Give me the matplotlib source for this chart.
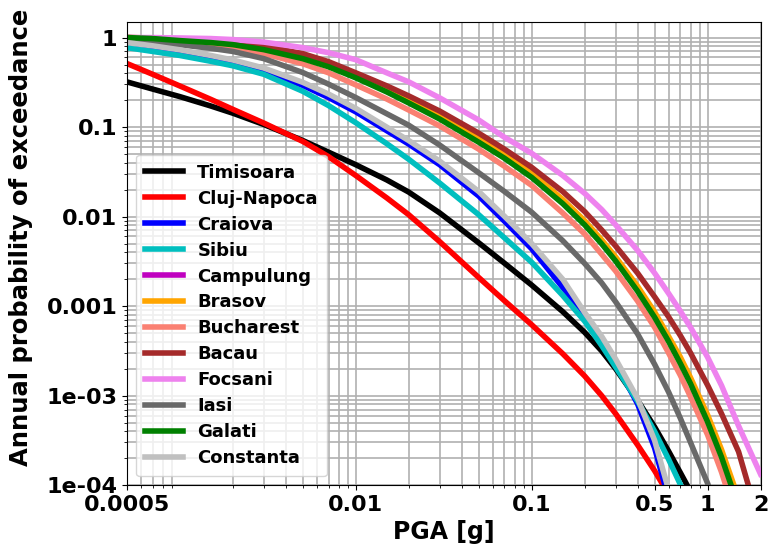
import numpy as np
import matplotlib
matplotlib.use("Agg")
import matplotlib.pyplot as plt
from matplotlib.ticker import FixedLocator, FixedFormatter, LogLocator, NullFormatter

# PGA grid [g] shared by all hazard curves
pga = [0.0005, 0.0007, 0.001, 0.0015, 0.002, 0.003, 0.005, 0.007, 0.01, 0.015, 0.02,
       0.03, 0.05, 0.07, 0.1, 0.15, 0.2, 0.25, 0.3, 0.4, 0.5, 0.6, 0.7, 0.8, 1.0, 1.2,
       1.5, 2.0]
nan = np.nan

timisoara = [0.32, 0.266, 0.219, 0.172, 0.143, 0.107, 0.0708, 0.0525, 0.038, 0.0257, 0.0188,
             0.011, 5.1e-3, 3.02e-3, 1.72e-3, 8.7e-4, 5.1e-4, 3.16e-4, 2.0e-4, 8.9e-5, 4.47e-5,
             2.4e-5, 1.38e-5, 8.5e-6, nan, nan, nan, nan]
cluj = [0.513, 0.389, 0.288, 0.204, 0.158, 0.111, 0.0692, 0.0468, 0.0288, 0.0162, 0.0105,
        5.25e-3, 2.09e-3, 1.15e-3, 6.2e-4, 2.95e-4, 1.66e-4, 1.0e-4, 6.3e-5, 2.82e-5, 1.45e-5,
        7.9e-6, nan, nan, nan, nan, nan, nan]
craiova = [0.813, 0.75, 0.676, 0.582, 0.519, 0.422, 0.292, 0.214, 0.148, 0.0912, 0.0646,
           0.038, 0.017, 8.9e-3, 4.37e-3, 1.62e-3, 7.9e-4, 4.3e-4, 2.34e-4, 8.1e-5, 2.6e-5,
           7.1e-6, nan, nan, nan, nan, nan, nan]
sibiu = [0.772, 0.70, 0.631, 0.543, 0.484, 0.389, 0.251, 0.174, 0.112, 0.0653, 0.0437,
         0.0237, 0.0105, 5.8e-3, 3.09e-3, 1.32e-3, 6.8e-4, 3.63e-4, 2.09e-4, 8.7e-5, 3.98e-5,
         1.95e-5, 1.02e-5, 5.6e-6, nan, nan, nan, nan]
campulung = [1.0, 0.985, 0.94, 0.895, 0.855, 0.76, 0.61, 0.5, 0.375, 0.26, 0.196,
             0.13, 0.071, 0.047, 0.029, 0.0148, 8.5e-3, 5.2e-3, 3.35e-3, 1.57e-3, 8.0e-4,
             4.3e-4, 2.5e-4, 1.47e-4, 5.6e-5, 2.3e-5, 6.4e-6, nan]
brasov = [1.0, 0.99, 0.95, 0.913, 0.879, 0.792, 0.636, 0.524, 0.394, 0.274, 0.206,
          0.137, 0.075, 0.0497, 0.0305, 0.0156, 9.0e-3, 5.5e-3, 3.55e-3, 1.67e-3, 8.6e-4,
          4.6e-4, 2.7e-4, 1.59e-4, 6.1e-5, 2.5e-5, 7.1e-6, nan]
bucharest = [1.0, 0.95, 0.902, 0.834, 0.772, 0.661, 0.51, 0.404, 0.296, 0.206, 0.155,
             0.103, 0.0567, 0.0365, 0.0223, 0.011, 6.4e-3, 3.8e-3, 2.47e-3, 1.14e-3, 5.8e-4,
             3.0e-4, 1.69e-4, 9.7e-5, 3.65e-5, 1.4e-5, 3.6e-6, nan]
bacau = [1.0, 0.99, 0.95, 0.913, 0.879, 0.803, 0.661, 0.538, 0.404, 0.289, 0.223,
         0.151, 0.0855, 0.0567, 0.0355, 0.0191, 0.0114, 7.1e-3, 4.7e-3, 2.34e-3, 1.27e-3,
         7.6e-4, 4.7e-4, 3.0e-4, 1.31e-4, 6.3e-5, 2.37e-5, 3.4e-6]
focsani = [1.0, 1.0, 0.99, 0.975, 0.95, 0.89, 0.772, 0.678, 0.566, 0.404, 0.32,
           0.212, 0.12, 0.077, 0.051, 0.0289, 0.0182, 0.012, 8.1e-3, 4.2e-3, 2.34e-3,
           1.39e-3, 8.8e-4, 5.8e-4, 2.69e-4, 1.3e-4, 4.6e-5, 1.33e-5]
iasi = [0.925, 0.883, 0.832, 0.759, 0.70, 0.582, 0.407, 0.302, 0.214, 0.141, 0.105,
        0.063, 0.0309, 0.0191, 0.0112, 5.4e-3, 3.0e-3, 1.82e-3, 1.12e-3, 4.9e-4, 2.24e-4,
        1.1e-4, 5.6e-5, 3.0e-5, 1.05e-5, 4.0e-6, nan, nan]
galati = [1.0, 0.975, 0.925, 0.879, 0.834, 0.733, 0.581, 0.472, 0.355, 0.247, 0.186,
          0.123, 0.0678, 0.0449, 0.0274, 0.014, 8.1e-3, 4.97e-3, 3.2e-3, 1.47e-3, 7.5e-4,
          4.05e-4, 2.29e-4, 1.36e-4, 5.1e-5, 2.06e-5, 5.7e-6, nan]
constanta = [0.879, 0.809, 0.73, 0.631, 0.562, 0.457, 0.316, 0.234, 0.162, 0.1, 0.0708,
             0.0417, 0.0191, 0.0101, 5.0e-3, 2.0e-3, 8.5e-4, 4.6e-4, 2.57e-4, 9.3e-5, 3.16e-5,
             8.9e-6, nan, nan, nan, nan, nan, nan]

cities = ["Timisoara", "Cluj-Napoca", "Craiova", "Sibiu", "Campulung", "Brasov",
          "Bucharest", "Bacau", "Focsani", "Iasi", "Galati", "Constanta"]
curves = [timisoara, cluj, craiova, sibiu, campulung, brasov,
          bucharest, bacau, focsani, iasi, galati, constanta]
colors = ["k", "r", "b", "c", "m", "orange", "salmon", "brown", "violet",
          "dimgray", "green", "silver"]

xticks = [0.0005, 0.01, 0.1, 0.5, 1, 2]
xticklabels = ["0.0005", "0.01", "0.1", "0.5", "1", "2"]
yticks = [1, 0.1, 0.01, 0.001, 1e-4, 1e-5]
yticklabels = ["1", "0.1", "0.01", "0.001", "1e-03", "1e-04"]

plt.rcParams['font.family'] = ['DejaVu Sans']
plt.rcParams['font.weight'] = 'bold'
plt.rcParams['axes.labelweight'] = 'bold'

fig = plt.figure(figsize=(7.69, 5.59), dpi=100)
ax = fig.add_axes([0.165, 0.132, 0.824, 0.829])

for name, vals, col in zip(cities, curves, colors):
    ax.loglog(pga, vals, color=col, lw=4, label=name)

ax.set_xlim(0.0005, 2)
ax.set_ylim(1e-5, 1.5)

ax.xaxis.set_major_locator(FixedLocator(xticks))
ax.xaxis.set_major_formatter(FixedFormatter(xticklabels))
ax.xaxis.set_minor_locator(LogLocator(base=10, subs=np.arange(2, 10), numticks=20))
ax.xaxis.set_minor_formatter(NullFormatter())
ax.yaxis.set_major_locator(FixedLocator(yticks))
ax.yaxis.set_major_formatter(FixedFormatter(yticklabels))
ax.yaxis.set_minor_locator(LogLocator(base=10, subs=np.arange(2, 10), numticks=20))
ax.yaxis.set_minor_formatter(NullFormatter())

ax.grid(True, which='both', color='#b0b0b0', lw=1.2)
ax.tick_params(labelsize=16)

ax.set_xlabel("PGA [g]", fontsize=17)
ax.set_ylabel("Annual probability of exceedance", fontsize=17.5)
ax.yaxis.set_label_coords(-0.148, 0.535)

ax.legend(loc='lower left', fontsize=13, labelspacing=0.44, handlelength=2.1,
          borderpad=0.5)

fig.savefig("out.png", dpi=100)
